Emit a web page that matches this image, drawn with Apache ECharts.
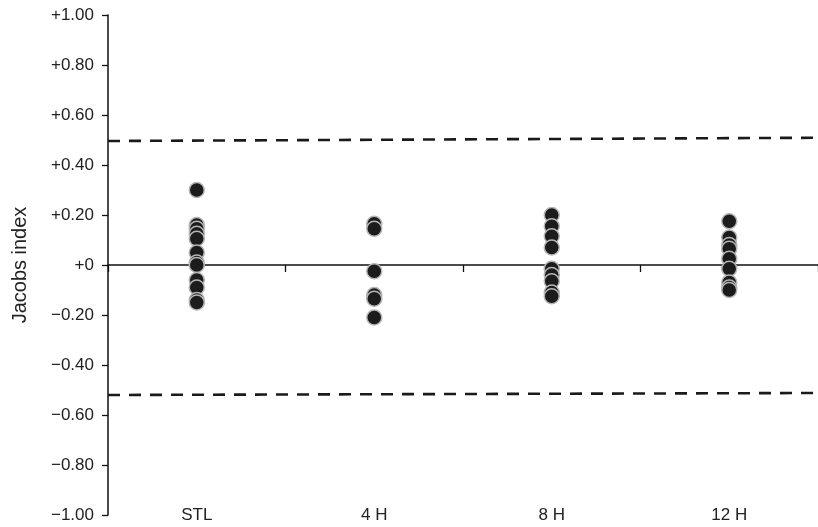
<!DOCTYPE html>
<html>
<head>
<meta charset="utf-8">
<script src="https://cdn.jsdelivr.net/npm/echarts@6/dist/echarts.min.js"></script>
<style>html,body{margin:0;padding:0;background:#fff;}#c{width:818px;height:527px;}</style>
</head>
<body>
<div id="c"></div>
<script>
const categories = ['STL', '4 H', '8 H', '12 H'];
const stlValues = [0.30, 0.16, 0.145, 0.125, 0.105, 0.05, 0.01, 0.0, -0.06, -0.09, -0.14, -0.15];
const h4Values = [0.165, 0.145, -0.025, -0.12, -0.135, -0.21];
const h8Values = [0.20, 0.155, 0.115, 0.07, -0.015, -0.04, -0.065, -0.11, -0.125];
const h12Values = [0.175, 0.11, 0.08, 0.065, 0.025, -0.015, -0.07, -0.09, -0.10];
const upperLimit = [0.496, 0.509];
const lowerLimit = [-0.52, -0.512];
const yTickValues = [1, 0.8, 0.6, 0.4, 0.2, 0, -0.2, -0.4, -0.6, -0.8, -1];
const yTickLabels = ['+1.00', '+0.80', '+0.60', '+0.40', '+0.20', '+0', '\u22120.20', '\u22120.40', '\u22120.60', '\u22120.80', '\u22121.00'];

const groups = [stlValues, h4Values, h8Values, h12Values];
const scatterData = [];
groups.forEach((vals, i) => vals.forEach(v => scatterData.push([categories[i], v])));

const font = 'Liberation Sans, Arial, Helvetica, sans-serif';
const ink = '#222';

const chart = echarts.init(document.getElementById('c'), null, {renderer: 'canvas'});
chart.setOption({
  animation: false,
  backgroundColor: '#fff',
  grid: {left: 108, top: 15, width: 718, bottom: 12, containLabel: false},
  xAxis: [
    {
      type: 'category', data: categories, position: 'bottom',
      axisLine: {show: false, onZero: false}, axisTick: {show: false},
      axisLabel: {show: true, color: ink, fontFamily: font, fontSize: 17, margin: 0, verticalAlign: 'middle'},
      splitLine: {show: false}
    },
    {
      type: 'category', data: categories, position: 'top',
      axisLine: {show: true, onZero: true, lineStyle: {color: '#111', width: 1.5}},
      axisTick: {show: true, inside: true, length: 7, lineStyle: {color: '#111', width: 1.3}},
      axisLabel: {show: false}, splitLine: {show: false}
    },
    {type: 'value', min: 0, max: 1, show: false}
  ],
  yAxis: {
    type: 'value', min: -1, max: 1, interval: 0.2,
    name: 'Jacobs index', nameLocation: 'middle', nameGap: 78,
    nameTextStyle: {color: ink, fontFamily: font, fontSize: 20},
    axisLine: {show: true, lineStyle: {color: '#111', width: 1.5}},
    axisTick: {show: true, length: 6, lineStyle: {color: '#111', width: 1.3}},
    axisLabel: {
      color: ink, fontFamily: font, fontSize: 17, margin: 14,
      formatter: function (v) {
        const r = Math.round(v * 100) / 100;
        const idx = yTickValues.findIndex(t => Math.abs(t - r) < 1e-6);
        return idx >= 0 ? yTickLabels[idx] : '';
      }
    },
    splitLine: {show: false}
  },
  series: [
    {
      type: 'line', xAxisIndex: 2, symbol: 'none', silent: true,
      data: [[0, upperLimit[0]], [1, upperLimit[1]]],
      lineStyle: {color: '#1a1a1a', width: 2.6, type: [12, 9]}
    },
    {
      type: 'line', xAxisIndex: 2, symbol: 'none', silent: true,
      data: [[0, lowerLimit[0]], [1, lowerLimit[1]]],
      lineStyle: {color: '#1a1a1a', width: 2.6, type: [12, 9]}
    },
    {
      type: 'scatter', xAxisIndex: 0, data: scatterData, symbol: 'circle', symbolSize: 15,
      itemStyle: {color: '#1c1c1c', borderColor: '#b5b5b5', borderWidth: 1.5, opacity: 1}
    }
  ]
});
</script>
</body>
</html>
